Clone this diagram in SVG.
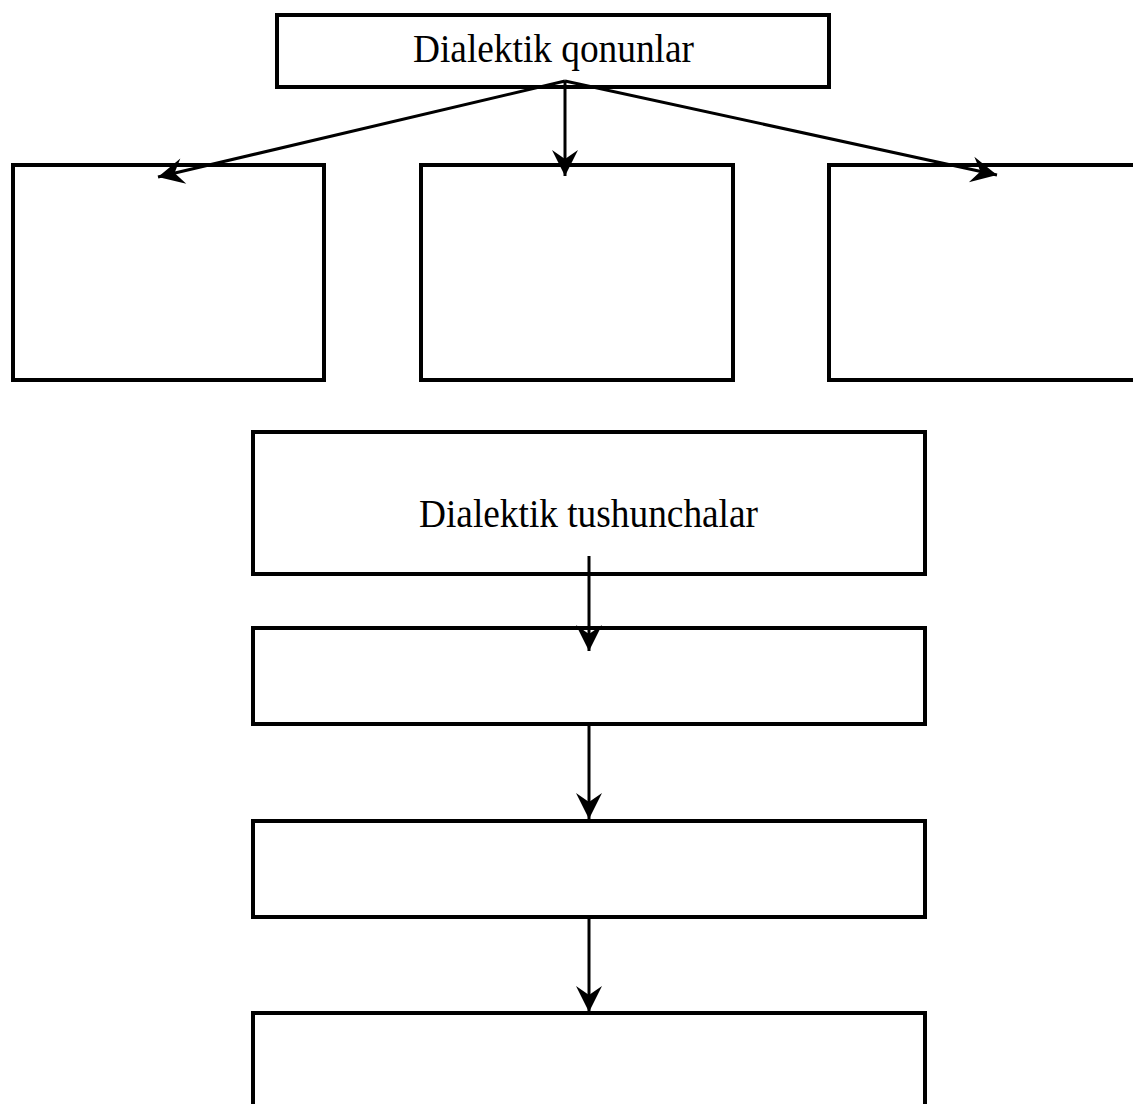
<svg xmlns="http://www.w3.org/2000/svg" width="1133" height="1104" viewBox="0 0 1133 1104">
<defs>
<style>
.box{fill:#fff;stroke:#000;stroke-width:4}
.lbl{font-family:"Liberation Serif","Times New Roman",serif;font-size:40px;fill:#000}
.con{stroke:#000;stroke-width:3;fill:none;marker-end:url(#ah)}
</style>
<marker id="ah" markerUnits="userSpaceOnUse" viewBox="-28 -15 30 30" markerWidth="30" markerHeight="30" refX="0" refY="0" orient="auto">
<path d="M0,0 L-26,-13 L-17,0 L-26,13 Z" fill="#000"/>
</marker>
</defs>
<rect width="1133" height="1104" fill="#fff"/>
<g id="node-qonunlar">
<rect class="box" x="277" y="15" width="552" height="72"/>
<text class="lbl" x="413" y="62" textLength="281" lengthAdjust="spacingAndGlyphs">Dialektik qonunlar</text>
</g>
<g id="node-left"><rect class="box" x="13" y="165" width="311" height="215"/></g>
<g id="node-middle"><rect class="box" x="421" y="165" width="312" height="215"/></g>
<g id="node-right"><rect class="box" x="829" y="165" width="320" height="215"/></g>
<g id="node-tushunchalar">
<rect class="box" x="253" y="432" width="672" height="142"/>
<text class="lbl" x="419" y="527" textLength="339" lengthAdjust="spacingAndGlyphs">Dialektik tushunchalar</text>
</g>
<g id="node-b"><rect class="box" x="253" y="628" width="672" height="96"/></g>
<g id="node-c"><rect class="box" x="253" y="821" width="672" height="96"/></g>
<g id="node-d"><rect class="box" x="253" y="1013" width="672" height="120"/></g>
<g id="connectors">
<path class="con" d="M565,81 L158,177"/>
<path class="con" d="M565,81 L565,176"/>
<path class="con" d="M565,81 L997,175"/>
<path class="con" d="M589,556 L589,651"/>
<path class="con" d="M589,724 L589,819"/>
<path class="con" d="M589,917 L589,1012"/>
</g>
</svg>
